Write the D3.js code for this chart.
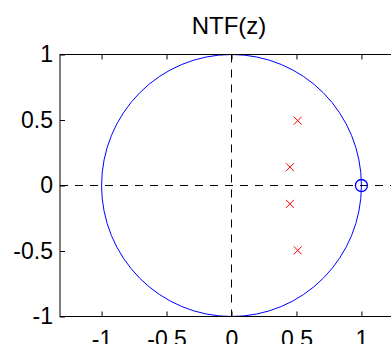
<!DOCTYPE html>
<html lang="en">
<head>
	<meta charset="UTF-8">
	<title>NTF(z) pole-zero plot</title>
	<script src="https://d3js.org/d3.v7.min.js"></script>
	<style>
		body { margin: 0; background: #fff; }
		svg { display: block; }
		text { font-family: Arial, "Liberation Sans", sans-serif; fill: #000; }
	</style>
</head>
<body>
<div id="chart"></div>
<script>
	// Data
	const xTicks = [-1, -0.5, 0, 0.5, 1];
	const yTicks = [-1, -0.5, 0, 0.5, 1];
	const xLim = [-1.32, 1.32];
	const yLim = [-1, 1];
	const poleRe = [0.51, 0.45, 0.45, 0.51];
	const poleIm = [0.495, 0.14, -0.14, -0.495];
	const zeroRe = [1];
	const zeroIm = [0];

	const sizeX = 391, sizeY = 344;
	const fontSize = 23;

	const svg = d3.create("svg")
		.attr("width", sizeX)
		.attr("height", sizeY);

	const x = d3.scaleLinear().domain(xLim).range([60, 403]);
	const y = d3.scaleLinear().domain(yLim).range([316.5, 54.5]);

	// dashed axes through the origin
	svg.append("line")
		.attr("x1", x(0)).attr("x2", x(0))
		.attr("y1", y(yLim[1])).attr("y2", y(yLim[0]))
		.attr("stroke", "#000").attr("stroke-width", 1)
		.attr("stroke-dasharray", "8,7");
	svg.append("line")
		.attr("x1", x(xLim[0])).attr("x2", x(xLim[1]))
		.attr("y1", y(0)).attr("y2", y(0))
		.attr("stroke", "#000").attr("stroke-width", 1)
		.attr("stroke-dasharray", "8,7");

	// unit circle
	svg.append("ellipse")
		.attr("cx", x(0)).attr("cy", y(0))
		.attr("rx", x(1) - x(0)).attr("ry", y(0) - y(1))
		.attr("fill", "none")
		.attr("stroke", "#0000ff").attr("stroke-width", 1);

	// zeros
	zeroRe.forEach((re, i) => {
		svg.append("circle")
			.attr("cx", x(re)).attr("cy", y(zeroIm[i]))
			.attr("r", 6)
			.attr("fill", "none")
			.attr("stroke", "#0000ff").attr("stroke-width", 1.3);
	});

	// poles
	poleRe.forEach((re, i) => {
		const px = x(re), py = y(poleIm[i]), s = 4;
		svg.append("path")
			.attr("d", `M${px - s},${py - s}L${px + s},${py + s}M${px - s},${py + s}L${px + s},${py - s}`)
			.attr("stroke", "#ff0000").attr("stroke-width", 1)
			.attr("fill", "none");
	});

	// axes box
	svg.append("rect")
		.attr("x", x(xLim[0])).attr("y", y(yLim[1]))
		.attr("width", x(xLim[1]) - x(xLim[0]))
		.attr("height", y(yLim[0]) - y(yLim[1]))
		.attr("fill", "none").attr("stroke", "#000").attr("stroke-width", 1);

	const fmt = d => d3.format("")(d).replace("−", "-");

	const gx = svg.append("g")
		.attr("transform", `translate(0,${y(yLim[0])})`)
		.call(d3.axisBottom(x).tickValues(xTicks).tickSize(-5).tickPadding(14).tickFormat(fmt));
	svg.append("g")
		.attr("transform", `translate(0,${y(yLim[1])})`)
		.call(d3.axisTop(x).tickValues(xTicks).tickSize(-5).tickFormat(""));
	const gy = svg.append("g")
		.attr("transform", `translate(${x(xLim[0])},0)`)
		.call(d3.axisLeft(y).tickValues(yTicks).tickSize(-5).tickPadding(7).tickFormat(fmt));

	svg.selectAll(".domain").remove();
	svg.selectAll(".tick line").attr("stroke", "#000");
	svg.selectAll(".tick text")
		.attr("font-family", "Arial, 'Liberation Sans', sans-serif")
		.attr("font-size", fontSize)
		.attr("fill", "#000");

	// title
	svg.append("text")
		.attr("x", 229)
		.attr("y", 34)
		.attr("text-anchor", "middle")
		.style("font-size", "24px")
		.text("NTF(z)");

	document.getElementById("chart").append(svg.node());
</script>
</body>
</html>
